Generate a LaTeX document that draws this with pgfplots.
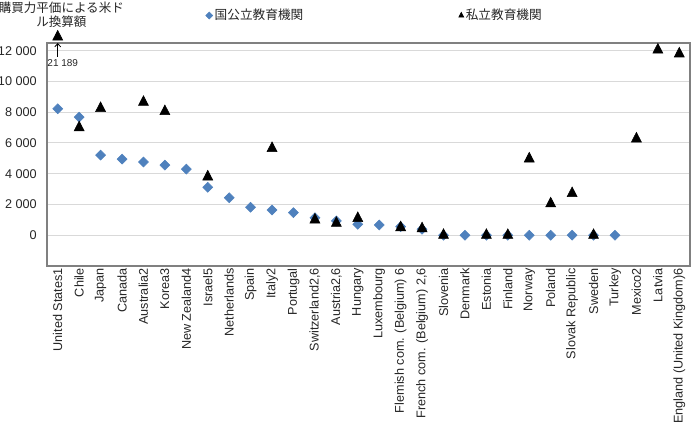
\documentclass[border=0pt]{standalone}
\usepackage{fontspec}
\setmainfont{Liberation Sans}
\newfontfamily\jp{Noto Sans CJK JP}
\usepackage{pgfplots}
\usepackage{pgfplotstable}
\pgfplotsset{compat=1.18}
\usetikzlibrary{arrows.meta}

\definecolor{pubblue}{RGB}{79,129,189}
\definecolor{gridgray}{RGB}{217,217,217}
\definecolor{framegray}{RGB}{128,128,128}
\definecolor{txt}{RGB}{38,38,38}

% Annual tuition fees, USD converted using PPP
% idx  public  private
\pgfplotstableread{
idx pub priv
0  8220 21189
1  7680 7000
2  5210 8250
3  4950 nan
4  4760 8650
5  4560 8050
6  4300 nan
7  3120 3800
8  2440 nan
9  1820 nan
10 1640 5650
11 1470 nan
12 1140 1000
13 930  780
14 710  1100
15 670  nan
16 560  500
17 390  430
18 0    0
19 0    nan
20 0    0
21 0    0
22 0    4970
23 0    2050
24 0    2720
25 0    0
26 0    nan
27 nan  6270
28 nan  12050
29 nan  11800
}\fees

\begin{document}
\begin{tikzpicture}
\useasboundingbox (0,0) rectangle (519pt,321pt);
\begin{axis}[
  at={(35.25pt,121.5pt)}, anchor=south west,
  scale only axis, width=482.25pt, height=167.25pt,
  xmin=-0.5, xmax=29.5, ymin=-2000, ymax=12500,
  clip=false,
  axis line style={framegray, line width=0.9pt},
  ymajorgrids, grid style={gridgray, line width=0.75pt},
  ytick={0,2000,...,12000},
  scaled y ticks=false,
  major tick length=0pt,
  /pgf/number format/.cd, 1000 sep={\ }, assume math mode=true,
  /pgfplots/.cd,
  yticklabel style={font=\fontsize{9.5}{11}\selectfont, text=txt, inner sep=0pt, xshift=-7.5pt},
  xtick={0,...,29},
  xticklabels={United States1, Chile, Japan, Canada, Australia2, Korea3, New Zealand4, Israel5, Netherlands, Spain, Italy2, Portugal, Switzerland2{,}6, Austria2{,}6, Hungary, Luxembourg, Flemish com. (Belgium) 6, French com. (Belgium) 2{,}6, Slovenia, Denmark, Estonia, Finland, Norway, Poland, Slovak Republic, Sweden, Turkey, Mexico2, Latvia, England (United Kingdom)6},
  xticklabel style={rotate=90, anchor=east, inner sep=1.5pt, font=\fontsize{9.5}{11}\selectfont, text=txt},
  legend columns=2,
  legend style={draw=none, fill=none, at={(axis description cs:0.2465,1.123)}, anchor=west,
    inner sep=0pt, font=\jp\fontsize{9.5}{11}\selectfont, text=txt,
    /tikz/every even column/.append style={column sep=115pt},
    nodes={inner sep=1.5pt}},
  legend image code/.code={\draw[#1] plot coordinates {(0pt,0pt)};},
]
\addplot[only marks, mark=square*, mark size=2.65pt, color=pubblue,
  mark options={rotate=45},
  legend image post style={mark size=1.85pt}]
  table[x=idx, y=pub] {\fees};
\addlegendentry{国公立教育機関}
\addplot[only marks, mark=triangle*, mark size=4.33pt, color=black,
  mark options={yscale=1.12},
  y filter/.expression={y>12500 ? 12900 : y},
  legend image post style={mark size=2.2pt}]
  table[x=idx, y=priv] {\fees};
\addlegendentry{私立教育機関}
% the United States value lies beyond the scale
\draw[black, line width=0.6pt, -{Straight Barb[length=2.5pt, width=4.5pt]}]
  (axis cs:0,11600) -- (axis cs:0,12500);
\node[anchor=west, inner sep=0pt, font=\fontsize{7.5}{9}\selectfont, text=txt]
  at (axis cs:-0.49,11180) {21 189};
\end{axis}
\node[font=\jp\fontsize{9.4}{11}\selectfont, text=txt, inner sep=0pt] at (46pt,315.5pt) {購買力平価による米ド};
\node[font=\jp\fontsize{9.4}{11}\selectfont, text=txt, inner sep=0pt] at (46pt,304.5pt) {ル換算額};
\end{tikzpicture}
\end{document}
